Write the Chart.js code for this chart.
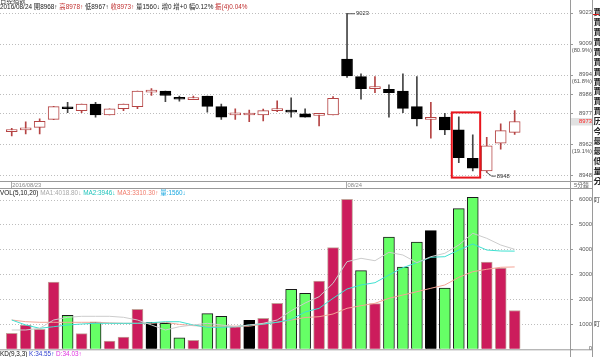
<!DOCTYPE html>
<html><head><meta charset="utf-8">
<script src="https://cdn.jsdelivr.net/npm/chart.js"></script>
<style>
html,body{margin:0;padding:0;background:#fff;}
#wrap{position:relative;width:600px;height:357px;overflow:hidden;background:#fff;}
#cTop{position:absolute;left:0;top:0;}
#cVol{position:absolute;left:0;top:189px;}
#cOv{position:absolute;left:0;top:0;pointer-events:none;}
</style></head><body>
<div id="wrap">
<canvas id="cTop" width="600" height="190"></canvas>
<canvas id="cVol" width="600" height="168"></canvas>
<canvas id="cOv" width="600" height="357"></canvas>
</div>
<script>
// ---- data ----
const barIndex = [0,1,2,3,4,5,6,7,8,9,10,11,12,13,14,15,16,17,18,19,20,21,22,23,24,25,26,27,28,29,30,31,32,33,34,35,36];
const opens  = [8968.3,8969.1,8970.3,8974.0,8979.6,8978.0,8981.0,8976.0,8978.9,8979.9,8986.6,8987.0,8983.7,8983.1,8984.8,8979.9,8976.1,8976.0,8976.0,8978.0,8977.9,8976.6,8975.8,8976.0,9001.8,8993.7,8988.2,8987.9,8987.1,8979.9,8974.0,8975.0,8969.1,8956.0,8950.2,8963.0,8968.0];
const highs  = [8969.9,8972.9,8974.2,8980.0,8981.9,8981.0,8981.9,8978.9,8981.0,8987.0,8988.2,8987.0,8984.7,8984.7,8984.8,8981.0,8978.8,8978.3,8978.7,8982.6,8983.9,8978.8,8976.8,8984.5,9023.0,8995.0,8993.7,8989.9,8995.0,8993.7,8981.9,8976.8,8975.2,8966.8,8965.7,8971.9,8978.0];
const lows   = [8966.3,8967.3,8967.3,8973.9,8977.1,8977.1,8975.0,8976.0,8978.0,8978.9,8985.0,8982.2,8982.4,8983.1,8977.3,8974.0,8974.0,8972.9,8973.3,8977.5,8975.0,8975.0,8971.0,8976.0,8993.4,8983.3,8986.3,8975.0,8977.1,8971.0,8965.3,8966.9,8954.0,8950.2,8949.5,8960.2,8967.0];
const closes = [8969.1,8970.0,8973.1,8979.9,8978.9,8981.0,8976.0,8978.9,8981.0,8987.0,8987.0,8985.0,8983.3,8984.0,8980.0,8975.0,8976.4,8976.3,8978.0,8978.9,8977.3,8975.0,8976.2,8983.7,8994.0,8988.2,8989.0,8986.3,8979.1,8974.2,8974.4,8969.1,8956.3,8951.4,8961.8,8968.8,8973.0];
const volumes = [643,977,803,2705,1366,629,1098,334,494,1607,1085,1045,466,362,1431,1326,908,1166,1246,1849,2412,2251,2745,4084,6029,3160,1833,4514,3308,4313,4767,2464,5651,6109,3509,3268,1560];
const volKinds = ['r','r','r','r','g','r','g','r','r','r','k','g','g','r','g','g','r','k','r','r','g','g','r','r','r','g','r','g','g','g','k','g','g','g','r','r','r'];
const ma1 = [776,776,844,1178,1286,1326,1326,1326,1286,1178,977,776,908,977,1045,977,908,977,1045,1178,1550,1860,2114,2653,3521,3658,3561,3899,3790,3481,3722,3859,4192,4662,4461,4192,4019];
const ma2 = [1178,977,844,908,977,1017,1045,1045,1045,1045,1070,1109,1109,977,884,884,908,977,1017,1085,1200,1500,1648,2050,2424,2584,2677,2986,3280,3481,3698,3722,3991,4232,3991,3951,3946];
const ma3 = [1178,1110,1085,1085,1085,1085,1085,1060,1045,1045,1045,1085,1000,950,930,930,930,930,1010,1085,1178,1278,1310,1419,1648,1752,1849,2050,2182,2315,2452,2584,2894,3119,3215,3296,3310];
const priceTicks = [9023, 9008.7, 8994.4, 8985.5, 8976.6, 8962.3, 8948];
const priceTickLabels = ['9023','9009','8994','8986','8977','8962','8948'];
const fibLabels = ['', '(80.9%)', '(61.8%)', '', '(38.2%)', '(19.1%)', ''];
const volTicks = [0,1000,2000,3000,4000,5000,6000];
const volTickLabels = ['0','1000','2000','3000','4000','5000','6000'];
const dateLabels = ['2016/08/23','08/24'];
const dateLabelAt = [0, 24];
const highMark = {i:24, v:9023, text:'9023'};
const lowMark = {i:34, v:8949.5, label:8948, text:'8948'};
const lastClose = 8973;
const boxRange = {from:32, to:33};

// ---- styling ----
const RED='#b54444', BLK='#000';
const X_MIN=-0.84, X_MAX=39.96;
const LABEL_FONT='5.8px "Liberation Sans"';
const up = barIndex.map(i=>closes[i]>=opens[i]);

// right-aligned axis labels drawn at the library's tick positions
function axisLabels(values, labels, subLabels){
  return {
    id:'axisLabels',
    afterDraw(chart){
      const ctx=chart.ctx, ys=chart.scales.y;
      ctx.save();
      ctx.font=LABEL_FONT; ctx.textAlign='right'; ctx.textBaseline='middle'; ctx.fillStyle='#555';
      values.forEach((v,i)=>{
        const y=ys.getPixelForValue(v);
        ctx.fillText(labels[i],592,y-0.5);
        if(subLabels && subLabels[i]) ctx.fillText(subLabels[i],592,y+6.5);
      });
      ctx.restore();
    }
  };
}

const topDecor = {
  id:'topDecor',
  afterDraw(chart){
    const ctx=chart.ctx, xs=chart.scales.x, ys=chart.scales.y;
    ctx.save();
    ctx.font=LABEL_FONT; ctx.textBaseline='middle';
    // last close label
    const yc=ys.getPixelForValue(lastClose);
    ctx.fillStyle='#e2e2e2'; ctx.fillRect(571,yc-3.5,21,7.5);
    ctx.textAlign='right'; ctx.fillStyle='#ff2020'; ctx.fillText(String(lastClose),592,yc+0.3);
    // high label
    const hx=xs.getPixelForValue(highMark.i), hy=ys.getPixelForValue(highMark.v);
    ctx.strokeStyle='#555'; ctx.lineWidth=1; ctx.beginPath(); ctx.moveTo(hx,hy+0.5); ctx.lineTo(hx+8,hy+0.5); ctx.stroke();
    ctx.textAlign='left'; ctx.fillStyle='#333'; ctx.fillText(highMark.text,hx+9,hy+0.5);
    // low label
    const lx=xs.getPixelForValue(lowMark.i), ly=ys.getPixelForValue(lowMark.v), ly2=ys.getPixelForValue(lowMark.label);
    ctx.beginPath(); ctx.moveTo(lx,ly); ctx.lineTo(lx+5,ly2+0.5); ctx.lineTo(lx+9,ly2+0.5); ctx.stroke();
    ctx.fillText(lowMark.text,lx+10,ly2+0.5);
    // red box
    const bx1=xs.getPixelForValue(boxRange.from-0.5), bx2=xs.getPixelForValue(boxRange.to+0.53);
    const by1=ys.getPixelForValue(8977.2), by2=ys.getPixelForValue(8947.1);
    ctx.strokeStyle='#e8141c'; ctx.lineWidth=2; ctx.strokeRect(bx1,by1,bx2-bx1,by2-by1);
    // date labels
    ctx.fillStyle='#888';
    dateLabels.forEach((t,k)=>{
      const x=xs.getPixelForValue(dateLabelAt[k]);
      ctx.strokeStyle='#aaa'; ctx.lineWidth=1; ctx.beginPath(); ctx.moveTo(Math.round(x)-0.5,182); ctx.lineTo(Math.round(x)-0.5,188); ctx.stroke();
      ctx.fillText(t,x+0.5,185.3);
    });
    ctx.restore();
  }
};

new Chart(document.getElementById('cTop'), {
  type:'bar',
  data:{datasets:[
    {label:'wick', data:barIndex.map(i=>({x:i,y:[lows[i],highs[i]]})), barThickness:1,
     backgroundColor:barIndex.map(i=>up[i]?RED:'#444'), borderWidth:0, grouped:false, order:2},
    {label:'body', data:barIndex.map(i=>({x:i,y:[Math.min(opens[i],closes[i]),Math.max(opens[i],closes[i])]})), barThickness:11,
     backgroundColor:barIndex.map(i=>up[i]?'#fff':BLK), borderColor:barIndex.map(i=>up[i]?RED:BLK),
     borderWidth:1, borderSkipped:false, minBarLength:2, grouped:false, order:1}
  ]},
  options:{
    responsive:false, animation:false, devicePixelRatio:1,
    layout:{padding:{top:10,left:0,right:0,bottom:8.3}},
    plugins:{legend:{display:false}, tooltip:{enabled:false}},
    scales:{
      x:{type:'linear', display:false, min:X_MIN, max:X_MAX, offset:false},
      y:{position:'right', min:8945.2, max:9024.5,
         afterBuildTicks:s=>{ s.ticks=priceTicks.map(v=>({value:v})); },
         afterFit:s=>{ s.width=30; },
         ticks:{display:false},
         grid:{color:'#bdbdbd', lineWidth:1, drawTicks:true, tickLength:3, tickColor:'#999'},
         border:{display:true, color:'#999', dash:[1,2]}}
    }
  },
  plugins:[axisLabels(priceTicks, priceTickLabels, fibLabels), topDecor]
});

const volColor = {r:'#cc1c5c', g:'#66ff66', k:'#000'};
const volBorder = {r:'#c4a29a', g:'#1a1a1a', k:'#000'};

new Chart(document.getElementById('cVol'), {
  type:'bar',
  data:{datasets:[
    {type:'line', label:'MA1', data:barIndex.map(i=>({x:i,y:ma1[i]})), borderColor:'#cccccc', borderWidth:1, pointRadius:0, tension:0, order:1},
    {type:'line', label:'MA2', data:barIndex.map(i=>({x:i,y:ma2[i]})), borderColor:'#3ee0d0', borderWidth:1, pointRadius:0, tension:0, order:1},
    {type:'line', label:'MA3', data:barIndex.map(i=>({x:i,y:ma3[i]})), borderColor:'#f4a496', borderWidth:1, pointRadius:0, tension:0, order:1},
    {type:'bar', label:'VOL', data:barIndex.map(i=>({x:i,y:volumes[i]})), barThickness:11,
     backgroundColor:volKinds.map(k=>volColor[k]), borderColor:volKinds.map(k=>volBorder[k]),
     borderWidth:1, grouped:false, order:3}
  ]},
  options:{
    responsive:false, animation:false, devicePixelRatio:1,
    layout:{padding:{top:0,left:0,right:0,bottom:7.7}},
    plugins:{legend:{display:false}, tooltip:{enabled:false}},
    scales:{
      x:{type:'linear', display:false, min:X_MIN, max:X_MAX, offset:false},
      y:{position:'right', min:0, max:6443,
         afterBuildTicks:s=>{ s.ticks=volTicks.map(v=>({value:v})); },
         afterFit:s=>{ s.width=30; },
         ticks:{display:false},
         grid:{color:c=>c.tick && c.tick.value===0?'rgba(0,0,0,0)':'#bdbdbd', lineWidth:1, drawTicks:true, tickLength:3, tickColor:'#999'},
         border:{display:true, color:'#999', dash:[1,2]}}
    }
  },
  plugins:[axisLabels(volTicks, volTickLabels, null)]
});

// ---- static overlay text & frame ----
(function(){
  const c=document.getElementById('cOv'), ctx=c.getContext('2d');
  const F='6.4px "Liberation Sans","Noto Sans CJK TC"';
  function segs(list,x,y,font){
    ctx.font=font; ctx.textBaseline='middle'; ctx.textAlign='left';
    for(const [t,col] of list){ ctx.fillStyle=col; ctx.fillText(t,x,y); x+=ctx.measureText(t).width; }
  }
  ctx.strokeStyle='#9a9a9a'; ctx.lineWidth=1;
  [[0,181.5,592,181.5],[0,188.5,592,188.5],[0,349.8,592,349.8],[570.5,0,570.5,357],[592.5,0,592.5,357]].forEach(l=>{
    ctx.beginPath(); ctx.moveTo(l[0],l[1]); ctx.lineTo(l[2],l[3]); ctx.stroke();
  });
  segs([['日经指数','#333']],0,1.5,F);
  segs([['2016/08/24 ','#222'],['開8968↑ ','#222'],['高8978↑ ','#c03030'],['低8967↑ ','#222'],['收8973↑ ','#c03030'],
        ['量1560↓ ','#222'],['增0 ','#222'],['增+0 ','#222'],['幅0.12% ','#222'],['振(4)0.04%','#c03030']],0,7.5,F);
  segs([['VOL(5,10,20) ','#111'],['MA1:4018.80↓ ','#a8a8a8'],['MA2:3946↓ ','#22c4bc'],['MA3:3310.30↑ ','#f07a6a'],['量:1560↓','#1aa8e0']],0,193,F);
  segs([['KD(9,3,3) ','#111'],['K:34.55↑ ','#3040d0'],['D:34.03↑','#e030e0']],0,354,F);
  segs([['5分鐘','#666']],574,185.3,'5.8px "Liberation Sans","Noto Sans CJK TC"');
  // right side column
  const col='賈賈賈賈賈賈賈賈賈賈賈历今最最低量分';
  ctx.font='bold 8.5px "Noto Sans CJK TC"'; ctx.fillStyle='#222'; ctx.textBaseline='middle';
  for(let k=0;k<col.length;k++){ ctx.fillText(col[k],593.5,12+k*9.9); }
  ctx.fillStyle='#e01818'; ctx.fillRect(593,14,6,1);
  ctx.font='6px "Noto Sans CJK TC"'; ctx.fillStyle='#333';
  ctx.fillText('盯',594,200); ctx.fillText('盯',594,324);
})();
</script>
</body></html>
